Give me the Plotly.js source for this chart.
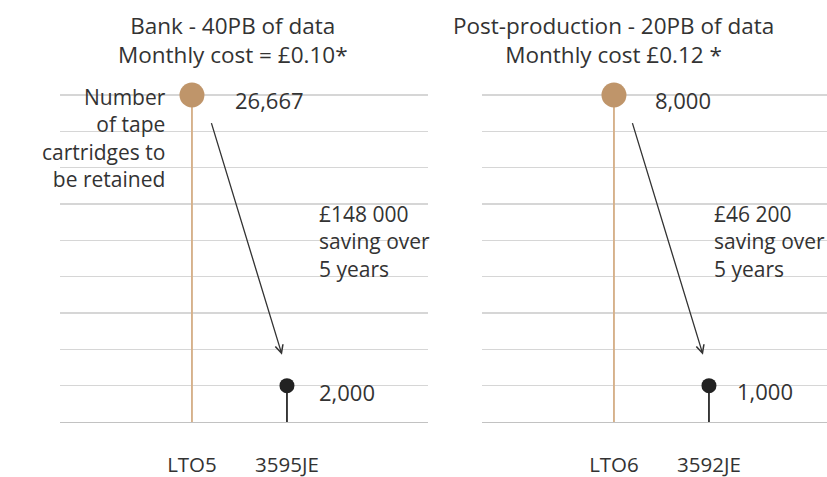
<!DOCTYPE html>
<html>
<head>
<meta charset="utf-8">
<script src="https://cdn.plot.ly/plotly-3.0.1.min.js"></script>
<style>html,body{margin:0;padding:0;background:#fff;}#chart{width:827px;height:477px;}</style>
</head>
<body>
<div id="chart"></div>
<script>
// ---- data ----
const leftCategories = ['LTO5', '3595JE'];
const leftValues = [26667, 2000];
const rightCategories = ['LTO6', '3592JE'];
const rightValues = [8000, 1000];
const leftTitle = ['Bank - 40PB of data', 'Monthly cost = £0.10*'];
const rightTitle = ['Post-production - 20PB of data', 'Monthly cost £0.12 *'];
const leftSaving = ['£148 000', 'saving over', '5 years'];
const rightSaving = ['£46 200', 'saving over', '5 years'];
const leftValueLabels = ['26,667', '2,000'];
const rightValueLabels = ['8,000', '1,000'];
const sideLabel = ['Number', 'of tape', 'cartridges to', 'be retained'];

// ---- style ----
const W = 827, H = 477;
const FONT = 'Open Sans, Liberation Sans, Arial, sans-serif';
const TXT = '#333333';
const TAN = '#bf956a';
const TAN_STEM = '#d6b18b';
const DARK = '#222222';
const px = v => v / W;
const py = v => 1 - v / H;

function yLayout(vals, domain) {
  const d = (vals[0] - vals[1]) / 8;
  return {
    domain: domain,
    range: [vals[1] - d, vals[0] + 0.9 * d],
    tick0: vals[1], dtick: d,
    showticklabels: false, showgrid: true, gridcolor: '#d6d6d6', gridwidth: 1.3,
    zeroline: false, fixedrange: true
  };
}
function xLayout(domain, span) {
  return {
    domain: domain, type: 'category',
    range: [-1.389, -1.389 + span],
    showgrid: false, zeroline: false,
    showline: true, linecolor: '#c2c2c2', linewidth: 1.3,
    ticks: 'outside', ticklen: 24, tickcolor: 'rgba(0,0,0,0)',
    tickfont: {family: FONT, size: 20.5, color: TXT}
  };
}

const yDom = [1 - 422 / H, 1 - 62.3 / H];
const lY = yLayout(leftValues, yDom);
const rY = yLayout(rightValues, yDom);

function stems(cats, vals, base, xa, ya) {
  return {
    type: 'bar', x: cats, y: vals.map(v => v - base), base: base,
    width: 0.02, marker: {color: [TAN_STEM, '#333333'], line: {width: 0}},
    xaxis: xa, yaxis: ya, hoverinfo: 'skip', showlegend: false
  };
}
function dots(cats, vals, xa, ya) {
  return {
    type: 'scatter', mode: 'markers', x: cats, y: vals,
    marker: {size: [25, 15], color: [TAN, DARK], opacity: 1, line: {width: 0}},
    xaxis: xa, yaxis: ya, showlegend: false, cliponaxis: false
  };
}

const data = [
  stems(leftCategories, leftValues, lY.range[0], 'x', 'y'),
  dots(leftCategories, leftValues, 'x', 'y'),
  stems(rightCategories, rightValues, rY.range[0], 'x2', 'y2'),
  dots(rightCategories, rightValues, 'x2', 'y2')
];

const f = {family: FONT, size: 21, color: TXT};
const fT = {family: FONT, size: 22.5, color: TXT};
const fV = {family: FONT, size: 22, color: TXT};
const ann = [];
// titles
ann.push({xref: 'paper', yref: 'paper', x: px(233), y: py(40), text: leftTitle.join('<br>'), showarrow: false, xanchor: 'center', yanchor: 'middle', font: fT});
ann.push({xref: 'paper', yref: 'paper', x: px(613), y: py(40), text: rightTitle.join('<br>'), showarrow: false, xanchor: 'center', yanchor: 'middle', font: fT});
// value labels
ann.push({xref: 'x', yref: 'y', x: 0, y: leftValues[0], text: leftValueLabels[0], showarrow: false, xanchor: 'left', yanchor: 'middle', xshift: 41, yshift: -5, font: fV});
ann.push({xref: 'x', yref: 'y', x: 1, y: leftValues[1], text: leftValueLabels[1], showarrow: false, xanchor: 'left', yanchor: 'middle', xshift: 30, yshift: -6, font: fV});
ann.push({xref: 'x2', yref: 'y2', x: 0, y: rightValues[0], text: rightValueLabels[0], showarrow: false, xanchor: 'left', yanchor: 'middle', xshift: 39, yshift: -5, font: fV});
ann.push({xref: 'x2', yref: 'y2', x: 1, y: rightValues[1], text: rightValueLabels[1], showarrow: false, xanchor: 'left', yanchor: 'middle', xshift: 26, yshift: -5, font: fV});
// savings
ann.push({xref: 'paper', yref: 'paper', x: px(317), y: py(242), text: leftSaving.join('<br>'), showarrow: false, xanchor: 'left', yanchor: 'middle', align: 'left', font: f});
ann.push({xref: 'paper', yref: 'paper', x: px(712), y: py(242), text: rightSaving.join('<br>'), showarrow: false, xanchor: 'left', yanchor: 'middle', align: 'left', font: f});
// side label
ann.push({xref: 'paper', yref: 'paper', x: px(168), y: py(138), text: sideLabel.join('<br>'), showarrow: false, xanchor: 'right', yanchor: 'middle', align: 'right', font: f});
// arrows
const arrowStyle = {text: '', showarrow: true, arrowhead: 5, arrowsize: 1.2, arrowwidth: 1.3, arrowcolor: '#333333', ax: -71, ay: -233};
ann.push(Object.assign({xref: 'x', yref: 'y', x: 1, y: leftValues[1], xshift: -5, yshift: 31}, arrowStyle));
ann.push(Object.assign({xref: 'x2', yref: 'y2', x: 1, y: rightValues[1], xshift: -6, yshift: 31}, arrowStyle));

const layout = {
  width: W, height: H,
  margin: {l: 0, r: 0, t: 0, b: 0},
  paper_bgcolor: '#ffffff', plot_bgcolor: '#ffffff',
  showlegend: false,
  font: {family: FONT, color: TXT},
  xaxis: xLayout([px(60), px(428)], 368 / 95),
  yaxis: lY,
  xaxis2: Object.assign(xLayout([px(482), 1], 345 / 95), {anchor: 'y2'}),
  yaxis2: Object.assign(rY, {anchor: 'x2'}),
  annotations: ann
};
layout.xaxis.anchor = 'y';
layout.yaxis.anchor = 'x';

Plotly.newPlot('chart', data, layout, {displayModeBar: false, staticPlot: true});
</script>
</body>
</html>
